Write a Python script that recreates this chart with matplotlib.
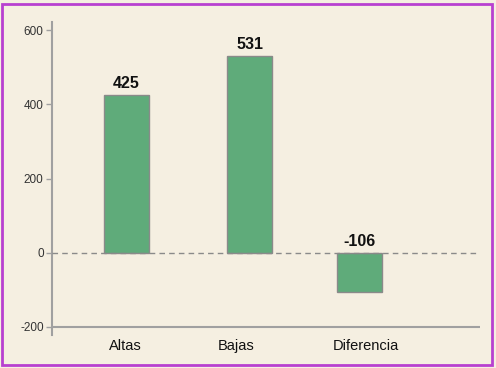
import matplotlib
matplotlib.use("Agg")
import matplotlib.pyplot as plt
from matplotlib.patches import Rectangle

categories = ["Altas", "Bajas", "Diferencia"]
values = [425, 531, -106]
yticks = [-200, 0, 200, 400, 600]

# layout (pixel-like x units)
bar_x = [126, 250, 360]
label_x = [125, 236, 366]
bar_w = 45

bg = "#f5efe1"
fig = plt.figure(figsize=(4.96, 3.68), dpi=100, facecolor=bg)
ax = fig.add_axes([52/496, 1-335/368, (480-52)/496, (335-22)/368])
ax.set_facecolor(bg)

ax.bar(bar_x, values, width=bar_w, color="#5fab7a", edgecolor="#8a8a8a", linewidth=1, zorder=2)
ax.axhline(0, color="#8a8a8a", linestyle=(0, (4, 3)), linewidth=1, zorder=3)
ax.axhline(-200, color="#a0a0a0", linewidth=1.5, zorder=1)

ax.set_xlim(52, 480)
ax.set_ylim(-222, 622)
ax.set_yticks(yticks)
ax.set_yticklabels([str(t) for t in yticks], fontsize=8.5, color="#333333", family="Liberation Sans")
ax.tick_params(axis="y", length=4, width=1, color="#a0a0a0", pad=2)
ax.set_xticks(label_x)
ax.set_xticklabels(categories, fontsize=10.5, family="Liberation Sans", color="#111111")
ax.tick_params(axis="x", length=0, pad=3)

for s in ["top", "right", "bottom"]:
    ax.spines[s].set_visible(False)
ax.spines["left"].set_color("#a0a0a0")
ax.spines["left"].set_linewidth(1.5)

for x, v in zip(bar_x, values):
    y = max(v, 0)
    ax.annotate(str(v), (x, y), xytext=(0, 3), textcoords="offset points",
                ha="center", va="bottom", fontsize=11.5, fontweight="bold",
                family="Liberation Sans", color="#111111")

fig.patches.append(Rectangle((2/496, 3/368), 490/496, 361/368, transform=fig.transFigure,
                             fill=False, edgecolor="#b840d0", linewidth=2))

fig.savefig("out.png", dpi=100, facecolor=bg)
